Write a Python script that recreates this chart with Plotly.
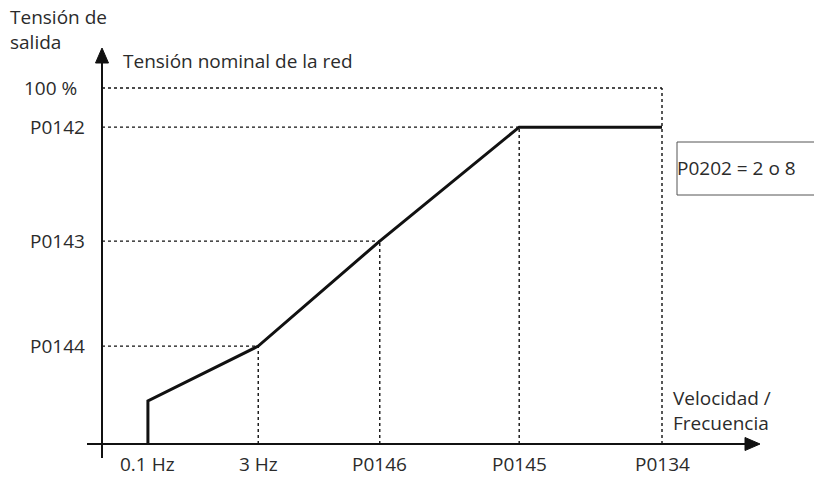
import plotly.graph_objects as go

# V/f curve parameters, as a percentage of nominal voltage / of P0134 frequency
freq_labels = ["0.1 Hz", "3 Hz", "P0146", "P0145", "P0134"]
freq_pos = [8.2, 27.9, 49.6, 74.5, 100.0]
volt_labels = ["100 %", "P0142", "P0143", "P0144"]
volt_pos = [100.0, 89.0, 57.0, 27.5]
boost_at_start = 12.1  # voltage at 0.1 Hz

# curve: start jump, then corners at 3 Hz, P0146, P0145, flat to P0134
curve_x = [freq_pos[0], freq_pos[0], freq_pos[1], freq_pos[2], freq_pos[3], freq_pos[4]]
curve_y = [0.0, boost_at_start, volt_pos[3], volt_pos[2], volt_pos[1], volt_pos[1]]

W, H = 814, 477
# pixel scale of the axes
X0_PX, XU = 102, 5.6     # x=0 at 102 px, 5.6 px per unit
Y0_PX, YU = 444, 3.56    # y=0 at 444 px, 3.56 px per unit
xr = [-X0_PX / XU, (W - X0_PX) / XU]
yr = [-(H - Y0_PX) / YU, Y0_PX / YU]

INK = "#111111"
TXT = "#2b2b2b"
FONT = dict(family="Open Sans, Lato, sans-serif", size=19, color=TXT)

fig = go.Figure()

dot = dict(color=INK, width=1.4, dash="dot")

def seg(x, y, line):
    fig.add_trace(go.Scatter(x=x, y=y, mode="lines", line=line,
                             hoverinfo="skip", showlegend=False))

# dotted guide lines
seg([0, freq_pos[4]], [volt_pos[0], volt_pos[0]], dot)
seg([0, freq_pos[3]], [volt_pos[1], volt_pos[1]], dot)
seg([0, freq_pos[2]], [volt_pos[2], volt_pos[2]], dot)
seg([0, freq_pos[1]], [volt_pos[3], volt_pos[3]], dot)
seg([freq_pos[1], freq_pos[1]], [0, volt_pos[3]], dot)
seg([freq_pos[2], freq_pos[2]], [0, volt_pos[2]], dot)
seg([freq_pos[3], freq_pos[3]], [0, volt_pos[1]], dot)
seg([freq_pos[4], freq_pos[4]], [0, volt_pos[0]], dot)

# axes
axis = dict(color=INK, width=2)
x_start, x_tip = -15 / XU, (760 - X0_PX) / XU
y_start, y_tip = -14 / YU, (Y0_PX - 48) / YU
seg([x_start, x_tip - 10 / XU], [0, 0], axis)
seg([0, 0], [y_start, y_tip - 10 / YU], axis)

# arrow heads
ah_len, ah_half = 15, 6.5
fig.add_trace(go.Scatter(
    x=[x_tip, x_tip - ah_len / XU, x_tip - ah_len / XU, x_tip],
    y=[0, ah_half / YU, -ah_half / YU, 0],
    mode="lines", fill="toself", fillcolor=INK, line=dict(color=INK, width=1),
    hoverinfo="skip", showlegend=False))
fig.add_trace(go.Scatter(
    x=[0, ah_half / XU, -ah_half / XU, 0],
    y=[y_tip, y_tip - ah_len / YU, y_tip - ah_len / YU, y_tip],
    mode="lines", fill="toself", fillcolor=INK, line=dict(color=INK, width=1),
    hoverinfo="skip", showlegend=False))

# V/f curve
seg(curve_x, curve_y, dict(color=INK, width=3))

ann = []
for lab, v in zip(volt_labels, volt_pos):
    right_px = 24 if lab.startswith("100") else 16
    ann.append(dict(x=-right_px / XU, y=v, text=lab, xanchor="right", yanchor="middle"))
for lab, f in zip(freq_labels, freq_pos):
    ann.append(dict(x=f, y=-20 / YU, text=lab, xanchor="center", yanchor="middle"))

ann.append(dict(x=-93 / XU, y=(Y0_PX - 29) / YU,
                text="Tensión de<br>salida", xanchor="left", yanchor="middle", align="left"))
ann.append(dict(x=20 / XU, y=(Y0_PX - 61) / YU,
                text="Tensión nominal de la red", xanchor="left", yanchor="middle"))
ann.append(dict(x=(672 - X0_PX) / XU, y=(Y0_PX - 410) / YU,
                text="Velocidad /<br>Frecuencia", xanchor="left", yanchor="middle", align="left"))
ann.append(dict(x=(676 - X0_PX) / XU, y=(Y0_PX - 168) / YU,
                text="P0202 = 2 o 8", xanchor="left", yanchor="middle"))

for a in ann:
    a.update(xref="x", yref="y", showarrow=False, font=FONT, borderpad=0)

# parameter-set box
fig.add_shape(type="rect", xref="x", yref="y",
              x0=(677 - X0_PX) / XU, x1=(830 - X0_PX) / XU,
              y0=(Y0_PX - 195) / YU, y1=(Y0_PX - 142) / YU,
              line=dict(color="#555555", width=1))

fig.update_layout(
    width=W, height=H, margin=dict(l=0, r=0, t=0, b=0),
    paper_bgcolor="white", plot_bgcolor="white",
    annotations=ann,
    xaxis=dict(range=xr, visible=False, fixedrange=True),
    yaxis=dict(range=yr, visible=False, fixedrange=True),
)

fig.write_html("out.html")
